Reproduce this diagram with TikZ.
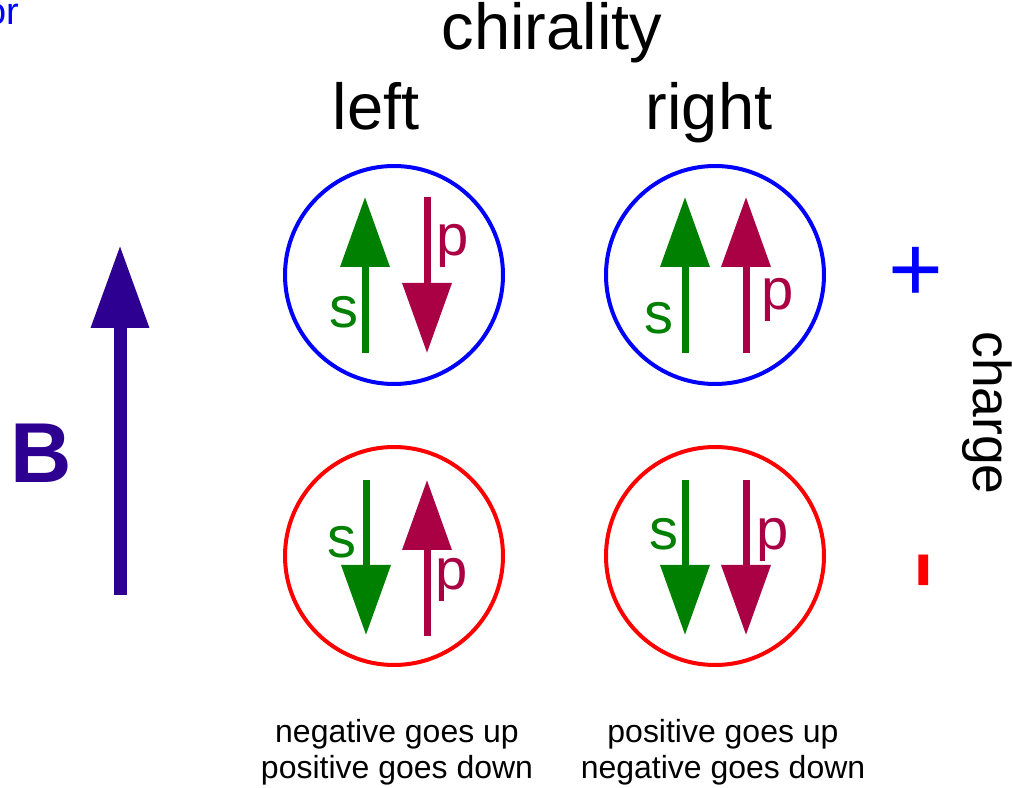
\documentclass[tikz,border=0pt]{standalone}
\usepackage{fontspec}
\setmainfont{Liberation Sans}
\usepackage{xcolor}
\definecolor{spinS}{HTML}{008000}
\definecolor{spinP}{HTML}{AA0044}
\definecolor{field}{HTML}{2E0092}
\usepackage{tikz}
\usetikzlibrary{arrows.meta}

\begin{document}
\begin{tikzpicture}[x=0.1mm, y=-0.1mm,
  heading/.style={font=\fontsize{18.5}{22}\selectfont, anchor=base, inner sep=0pt},
  letter/.style={font=\fontsize{16.5}{20}\selectfont, anchor=base, inner sep=0pt},
  note/.style={font=\fontsize{9.1}{10.2}\selectfont, align=center, anchor=south, inner sep=0pt},
  particle/.style={circle, draw, line width=0.4mm, minimum size=21.8mm, inner sep=0pt},
  spin/.style={line width=0.7mm, -{Triangle[length=7mm, width=4.8mm]}}]

  \useasboundingbox (0,0) rectangle (1012,788);

  % cut-off label in the corner
  \node[font=\fontsize{10.8}{13}\selectfont, text=blue, anchor=base east, inner sep=0pt] (corner) at (20,25) {or};

  % Titles
  \node[heading] (chir) at (552,50) {chirality};
  \node[heading] (left) at (376,130) {left};
  \node[heading] (right) at (709,130) {right};

  % Particles
  \node[particle, blue] (posL) at (394,275) {};
  \node[particle, blue] (posR) at (715,275) {};
  \node[particle, red] (negL) at (394,556) {};
  \node[particle, red] (negR) at (715,556) {};

  % left, positive
  \draw[spin, spinS] (365,353) -- (365,197);
  \draw[spin, spinP] (427,197) -- (427,353);
  \node[letter, text=spinS] (sPL) at (344,328) {s};
  \node[letter, text=spinP] (pPL) at (453,256) {p};

  % right, positive
  \draw[spin, spinS] (685,353) -- (685,197);
  \draw[spin, spinP] (746,353) -- (746,197);
  \node[letter, text=spinS] (sPR) at (659,334) {s};
  \node[letter, text=spinP] (pPR) at (778,310) {p};

  % left, negative
  \draw[spin, spinS] (366,480) -- (366,635);
  \draw[spin, spinP] (427,636) -- (427,480);
  \node[letter, text=spinS] (sNL) at (342,557) {s};
  \node[letter, text=spinP] (pNL) at (452,590) {p};

  % right, negative
  \draw[spin, spinS] (685,480) -- (685,635);
  \draw[spin, spinP] (746,480) -- (746,635);
  \node[letter, text=spinS] (sNR) at (664,550) {s};
  \node[letter, text=spinP] (pNR) at (773,550) {p};

  % Field
  \draw[field, line width=1.3mm, -{Triangle[length=8.3mm, width=5.5mm]}] (120,595) -- (120,245);
  \node[font=\fontsize{24.2}{28}\selectfont\bfseries, text=field, anchor=base, inner sep=0pt] (B) at (41,483) {B};

  % Charge
  \node[font=\fontsize{26.7}{30}\selectfont, text=blue, anchor=base, inner sep=0pt] (plus) at (916,302) {+};
  \node[font=\fontsize{35.6}{40}\selectfont, text=red, anchor=base, inner sep=0pt, rotate=-90] (minus) at (890,570) {-};
  \node[font=\fontsize{15.2}{18}\selectfont, anchor=base, inner sep=0pt, rotate=-90] (charge) at (973,413) {charge};

  % Notes
  \node[note] (noteL) at (397,786) {negative goes up\\positive goes down};
  \node[note] (noteR) at (723,786) {positive goes up\\negative goes down};

\end{tikzpicture}
\end{document}
